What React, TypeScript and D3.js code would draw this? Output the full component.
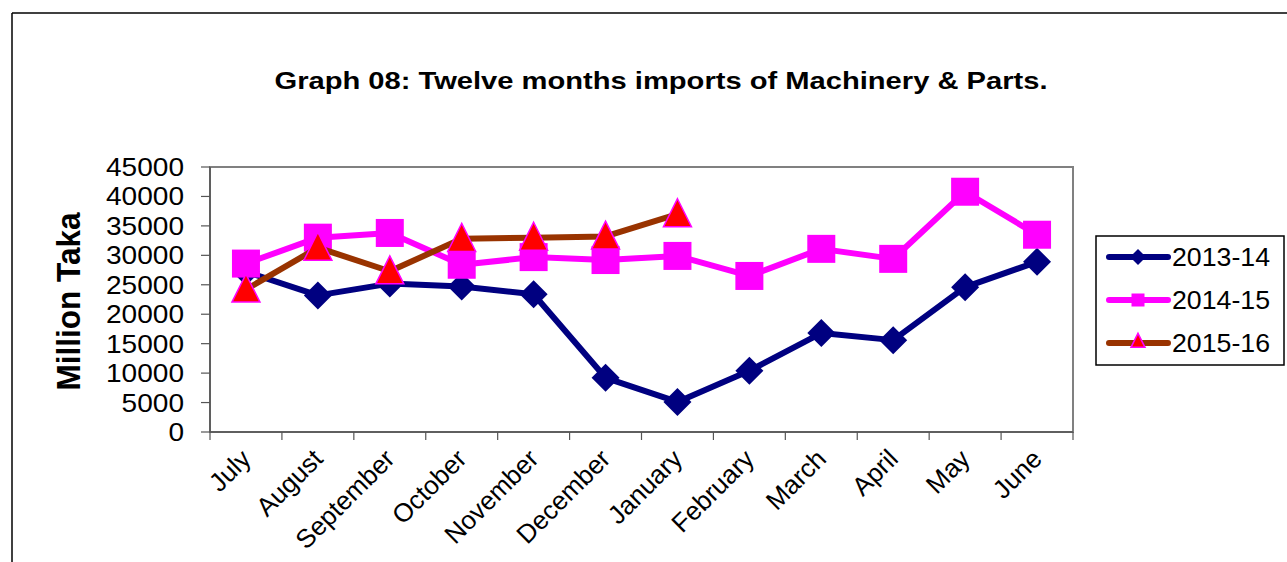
import React from "react";
import * as d3 from "d3";

const months = ["July","August","September","October","November","December","January","February","March","April","May","June"];
const s1314 = [27200, 23200, 25200, 24700, 23400, 9200, 5100, 10400, 16800, 15600, 24600, 28900];
const s1415 = [28600, 33000, 33800, 28400, 29700, 29200, 29900, 26500, 31100, 29400, 40800, 33500];
const s1516 = [24200, 31300, 27300, 32800, 33000, 33200, 37000];
const seriesNames = ["2013-14", "2014-15", "2015-16"];
const yTicks = [0,5000,10000,15000,20000,25000,30000,35000,40000,45000];

const W = 1287, H = 562;
const L = 210, R = 1073, T = 167, B = 432;

export default function App() {
  const x = d3.scaleBand<string>().domain(months).range([L, R]);
  const y = d3.scaleLinear().domain([0, 45000]).range([B, T]);
  const cx = (i: number) => (x(months[i]) as number) + x.bandwidth() / 2;
  const line = d3.line<number>().x((_, i) => cx(i)).y(d => y(d));
  const font = "Arial, 'Liberation Sans', sans-serif";

  const diamond = (px: number, py: number, r: number, k: string) => (
    <path key={k} d={`M${px},${py - r}L${px + r},${py}L${px},${py + r}L${px - r},${py}Z`} fill="#000080" />
  );
  const square = (px: number, py: number, s: number, k: string) => (
    <rect key={k} x={px - s / 2} y={py - s / 2} width={s} height={s} fill="#FF00FF" />
  );
  const tri = (px: number, py: number, s: number, k: string) => (
    <path key={k} d={`M${px},${py - s * 0.55}L${px + s / 2},${py + s * 0.45}L${px - s / 2},${py + s * 0.45}Z`} fill="#FF0000" stroke="#FF00FF" strokeWidth={1.5} />
  );

  const legendY = [257, 300, 343];
  const legendColors = ["#000080", "#FF00FF", "#993300"];

  return (
    <svg width={W} height={H} style={{ position: "absolute", left: 0, top: 0, background: "#fff" }} fontFamily={font}>
      <rect x={0} y={0} width={W} height={H} fill="#fff" />
      <line x1={12} y1={13} x2={W} y2={13} stroke="#000" strokeWidth={1.5} />
      <line x1={12} y1={13} x2={12} y2={H} stroke="#000" strokeWidth={1.5} />
      <text x={661} y={89} textAnchor="middle" fontWeight="bold" fontSize={24} textLength={773} lengthAdjust="spacingAndGlyphs">
        Graph 08: Twelve months imports of Machinery &amp; Parts.
      </text>

      {/* plot frame */}
      <rect x={L} y={T} width={R - L} height={B - T} fill="none" stroke="#808080" strokeWidth={2} />
      <line x1={L} y1={T} x2={L} y2={B} stroke="#555" strokeWidth={1.5} />
      <line x1={L} y1={B} x2={R} y2={B} stroke="#555" strokeWidth={1.5} />

      {/* y ticks */}
      {yTicks.map(t => (
        <g key={t}>
          <line x1={L - 9} x2={L} y1={y(t)} y2={y(t)} stroke="#555" strokeWidth={1.2} />
          <text x={184} y={y(t)} dy="0.36em" textAnchor="end" fontSize={25} fill="#000" textLength={String(t).length * 15.6} lengthAdjust="spacingAndGlyphs">{t}</text>
        </g>
      ))}
      {/* x ticks */}
      {d3.range(months.length + 1).map(i => {
        const xx = L + i * x.step();
        return <line key={i} x1={xx} x2={xx} y1={B} y2={B + 8} stroke="#555" strokeWidth={1.2} />;
      })}
      {months.map((m, i) => (
        <text key={m} transform={`translate(${cx(i)},${B + 22}) rotate(-45)`} textAnchor="end" dy="0.35em" fontSize={26} fill="#000">{m}</text>
      ))}

      <text transform={`translate(80,${(T + B) / 2 + 2}) rotate(-90)`} textAnchor="middle" fontWeight="bold" fontSize={33} fill="#000" textLength={178} lengthAdjust="spacingAndGlyphs">Million Taka</text>

      {/* series */}
      <path d={line(s1314) || ""} fill="none" stroke="#000080" strokeWidth={6} strokeLinejoin="round" />
      {s1314.map((v, i) => diamond(cx(i), y(v), 14, "d" + i))}
      <path d={line(s1415) || ""} fill="none" stroke="#FF00FF" strokeWidth={6} strokeLinejoin="round" />
      {s1415.map((v, i) => square(cx(i), y(v), 28, "s" + i))}
      <path d={line(s1516) || ""} fill="none" stroke="#993300" strokeWidth={6} strokeLinejoin="round" />
      {s1516.map((v, i) => tri(cx(i), y(v), 28, "t" + i))}

      {/* legend */}
      <rect x={1096} y={236} width={188} height={129} fill="#fff" stroke="#000" strokeWidth={1.5} />
      {seriesNames.map((n, i) => (
        <g key={n}>
          <line x1={1109} x2={1168} y1={legendY[i]} y2={legendY[i]} stroke={legendColors[i]} strokeWidth={6} strokeLinecap="round" />
          {i === 0 && diamond(1138, legendY[i], 8, "ld")}
          {i === 1 && square(1138, legendY[i], 13, "ls")}
          {i === 2 && tri(1138, legendY[i] - 2, 14, "lt")}
          <text x={1172} y={legendY[i]} dy="0.36em" fontSize={25} fill="#000" textLength={98} lengthAdjust="spacingAndGlyphs">{n}</text>
        </g>
      ))}
    </svg>
  );
}
